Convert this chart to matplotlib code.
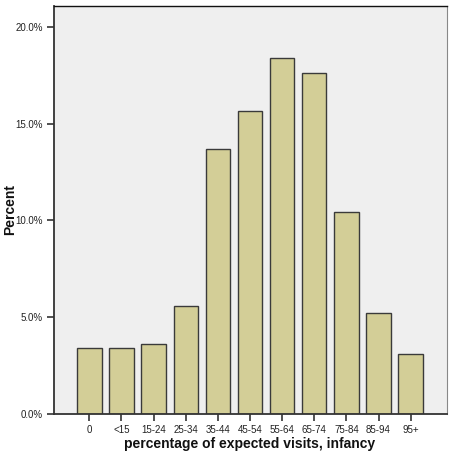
import matplotlib
matplotlib.use("Agg")
import matplotlib.pyplot as plt
from matplotlib.ticker import FuncFormatter

plt.rcParams['font.family'] = ['Liberation Sans', 'DejaVu Sans']

# Data
categories = ["0", "<15", "15-24", "25-34", "35-44", "45-54",
              "55-64", "65-74", "75-84", "85-94", "95+"]
percents = [3.41, 3.41, 3.58, 5.55, 13.67, 15.66, 18.42, 17.62, 10.45, 5.22, 3.10]
y_ticks = [0, 5, 10, 15, 20]

fig = plt.figure(figsize=(4.51, 4.51), dpi=100)
ax = fig.add_axes([54 / 451, 1 - 413.5 / 451, (447 - 54) / 451, (413.5 - 6) / 451])
ax.set_facecolor("#efefef")

x = range(len(categories))
ax.bar(x, percents, width=0.76, color="#d3ce97", edgecolor="#3a3a3a", linewidth=1.0, zorder=2)

ax.set_xlim(-1.1, len(categories) - 1 + 1.13)
ax.set_ylim(0, 21.09)
ax.set_xticks(list(x))
ax.set_xticklabels(categories)
ax.set_yticks(y_ticks)
ax.yaxis.set_major_formatter(FuncFormatter(lambda v, p: f"{v:.1f}%"))

ax.tick_params(axis="both", labelsize=7, colors="#333333", length=5, width=1.2, pad=3)
ax.tick_params(axis="both", labelcolor="#222222")

for side in ("left", "bottom"):
    ax.spines[side].set_color("#333333")
    ax.spines[side].set_linewidth(1.3)
ax.spines["top"].set_color("#111111")
ax.spines["top"].set_linewidth(1.0)
ax.spines["right"].set_color("#888888")
ax.spines["right"].set_linewidth(0.8)

# axis titles placed in figure pixels to match the reference
fig.text(3 / 451, 1 - 210 / 451, "Percent", rotation=90, ha="left", va="center",
         fontsize=10, fontweight="bold", color="#111111")
fig.text(250 / 451, 1 - 444 / 451, "percentage of expected visits, infancy",
         ha="center", va="center", fontsize=10, fontweight="bold", color="#111111")

fig.savefig("out.png", dpi=100)
